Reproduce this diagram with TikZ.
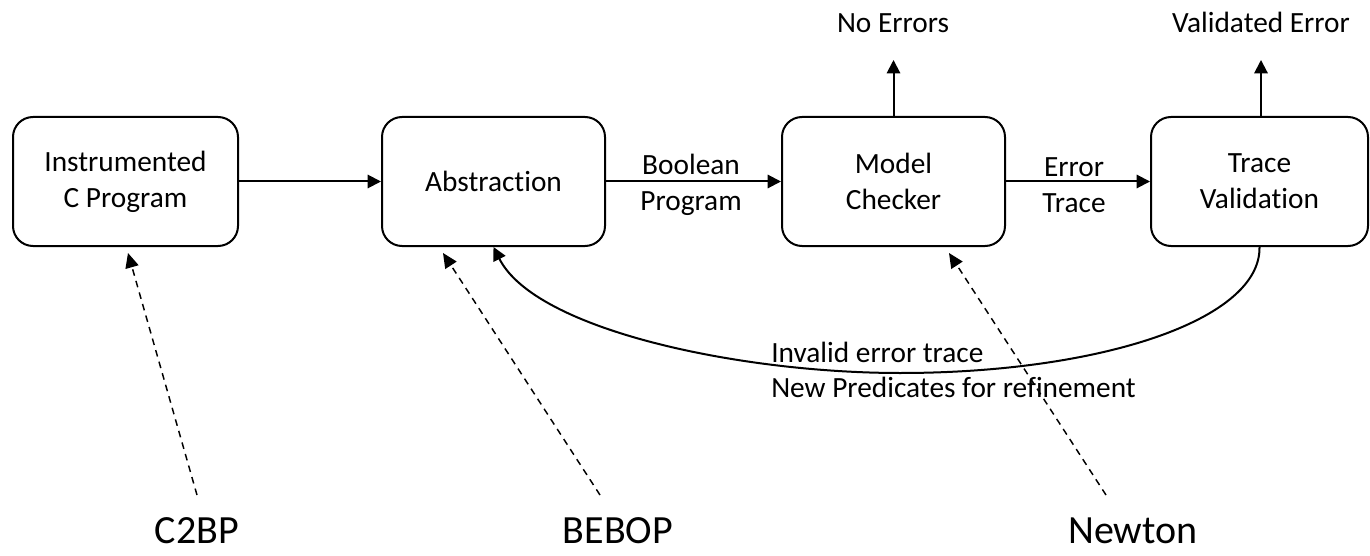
\documentclass[tikz,border=0pt]{standalone}
\usepackage{fontspec}
\setmainfont{Carlito}[Ligatures=NoCommon]
\usetikzlibrary{arrows.meta}
\begin{document}
\begin{tikzpicture}[x=0.75pt,y=-0.75pt,
  box/.style={draw,line width=1.5pt,rounded corners=15pt,minimum height=96.75pt,align=center,font=\fontsize{22}{27}\selectfont,inner sep=0pt},
  lbl/.style={font=\fontsize{22}{27}\selectfont,align=center,inner sep=0pt},
  lbll/.style={font=\fontsize{22}{27}\selectfont,inner sep=0pt,anchor=base west},
  big/.style={font=\fontsize{30}{36}\selectfont,inner sep=0pt,text depth=0pt,anchor=base},
  flow/.style={line width=1.5pt,-{Triangle[length=10pt,width=10pt]}},
  tool/.style={line width=1.1pt,dash pattern=on 5pt off 4pt,-{Triangle[length=11pt,width=10pt]}}]
\useasboundingbox (0,0) rectangle (1370,556);

\node[box,minimum width=168.75pt] (b1) at (125.5,181.5) {Instrumented\\C Program};
\node[box,minimum width=167.25pt] (b2) at (493.5,181.5) {Abstraction};
\node[box,minimum width=167.25pt] (b3) at (893.5,181.5) {Model\\Checker};
\node[box,minimum width=162.75pt] (b4) at (1259.5,181.5) {Trace\\Validation};

\draw[flow] (b1) -- (b2);
\draw[flow] (b2) -- (b3);
\draw[flow] (b3) -- (b4);
\node[lbl] (bp) at (691,185) {Boolean\\Program};
\node[lbl] (et) at (1074,185) {Error\\Trace};

\node[lbl,anchor=base] (ne) at (893,33) {No Errors};
\node[lbl,anchor=base] (ve) at (1261,33) {Validated Error};
\coordinate (neTip) at (893.5,60);
\coordinate (veTip) at (1261,60);
\draw[flow] (b3.north) -- (neTip);
\draw[flow] (b4.north -| veTip) -- (veTip);

\draw[flow] (b4.south) .. controls (1261,320) and (1100,373) .. (900,373)
  .. controls (740,373) and (535,330) .. (b2.south);
\node[lbll] (inv) at (771,362) {Invalid error trace};
\node[lbll] (np) at (771,397) {New Predicates for refinement};

\node[big] (c2bp) at (197,543) {C2BP};
\node[big] (bebop) at (618,543) {BEBOP};
\node[big] (newton) at (1133,543) {Newton};
\coordinate (s1) at (197,495);
\coordinate (s2) at (600,495);
\coordinate (s3) at (1106,495);
\draw[tool] (s1) -- ([shift={(2.5,6)}]b1.south);
\draw[tool] (s2) -- ([shift={(-50.5,6)}]b2.south);
\draw[tool] (s3) -- ([shift={(55.5,6)}]b3.south);
\end{tikzpicture}
\end{document}
